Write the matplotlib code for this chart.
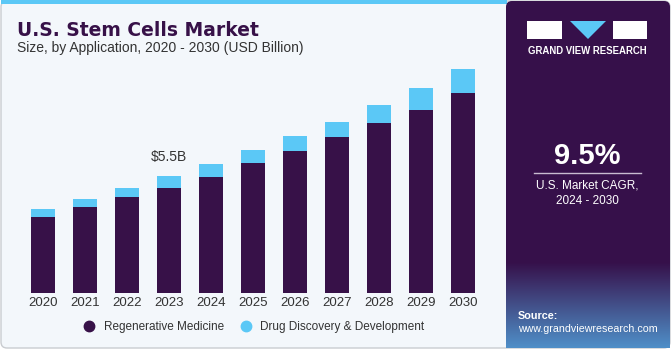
import matplotlib.pyplot as plt
import numpy as np
from matplotlib.patches import Rectangle, Polygon, FancyBboxPatch
from matplotlib.lines import Line2D

plt.rcParams['font.family'] = ['Liberation Sans', 'DejaVu Sans']

# data (USD billion)
years = ['2020', '2021', '2022', '2023', '2024', '2025', '2026', '2027', '2028', '2029', '2030']
regenerative = [3.57, 4.04, 4.51, 4.95, 5.47, 6.10, 6.67, 7.32, 7.99, 8.63, 9.39]
drug_discovery = [0.38, 0.38, 0.42, 0.55, 0.61, 0.63, 0.74, 0.75, 0.88, 1.00, 1.13]

purple = '#371148'
cyan = '#5bc8f6'
bg = '#f3f7fb'

W, H = 671, 350
fig = plt.figure(figsize=(W / 100, H / 100), dpi=100)
fig.patch.set_facecolor('white')

# background layer in pixel coords
bgax = fig.add_axes([0, 0, 1, 1])
bgax.axis('off')
bgax.add_patch(FancyBboxPatch((1, 1), W - 2, H - 3, boxstyle='round,pad=0,rounding_size=6',
                              facecolor=bg, edgecolor='#c9ccd0', lw=1))
bgax.add_patch(Rectangle((1, 0), 506, 4, facecolor=cyan, edgecolor='none'))

# right side panel with bottom fade
bgax.add_patch(FancyBboxPatch((506, 1), W - 507, H - 3, boxstyle='round,pad=0,rounding_size=6',
                              facecolor='#36104a', edgecolor='none'))
grad = np.linspace(0, 1, 100)[:, None]
c0 = np.array([0x36, 0x10, 0x4a]) / 255
c1 = np.array([0x4f, 0x8f, 0xc8]) / 255
img = c0[None, None, :] * (1 - grad[..., None]) + c1[None, None, :] * grad[..., None]
img = np.repeat(img, 2, axis=1)
bgax.imshow(img, extent=(506, W - 1, H - 2, 262), aspect='auto', zorder=1)
bgax.set_xlim(0, W)
bgax.set_ylim(H, 0)

# logo
bgax.add_patch(Rectangle((527, 21), 35, 18, facecolor='white', edgecolor='none', zorder=2))
bgax.add_patch(Polygon([(570, 21), (606, 21), (588, 39)], closed=True, facecolor=cyan, edgecolor='none', zorder=2))
bgax.add_patch(Rectangle((613, 21), 34, 18, facecolor='white', edgecolor='none', zorder=2))
bgax.text(587, 51, 'GRAND VIEW RESEARCH', color='white', fontsize=6.9, fontweight='bold',
          ha='center', va='center', zorder=3)

bgax.text(587, 156, '9.5%', color='white', fontsize=21, fontweight='bold', ha='center', va='center', zorder=3)
bgax.plot([534, 641], [173, 173], color='#c8bcd0', lw=1, zorder=3)
bgax.text(587, 186, 'U.S. Market CAGR,', color='white', fontsize=8.5, ha='center', va='center', zorder=3)
bgax.text(587, 201, '2024 - 2030', color='white', fontsize=8.5, ha='center', va='center', zorder=3)
bgax.text(518, 316, 'Source:', color='white', fontsize=7.8, fontweight='bold', ha='left', va='center', zorder=3)
bgax.text(518, 329, 'www.grandviewresearch.com', color='white', fontsize=7.7, ha='left', va='center', zorder=3)

# titles
bgax.text(17, 30, 'U.S. Stem Cells Market', color=purple, fontsize=13.5, fontweight='bold',
          family='DejaVu Sans', ha='left', va='center')
bgax.text(17, 48, 'Size, by Application, 2020 - 2030 (USD Billion)', color='#333333', fontsize=10,
          ha='left', va='center')

# chart axes
ax = fig.add_axes([22 / W, (H - 293) / H, 462 / W, 255 / H])
ax.patch.set_alpha(0)
x = np.arange(len(years))
ax.bar(x, regenerative, width=0.57, color=purple, zorder=2)
ax.bar(x, drug_discovery, width=0.57, bottom=regenerative, color=cyan, zorder=2)
ax.set_xlim(-0.5, len(years) - 0.5)
ax.set_ylim(0, 12)
for s in ax.spines.values():
    s.set_visible(False)
ax.set_yticks([])
ax.set_xticks(x)
ax.set_xticklabels(years, fontsize=9.5, color='#333333')
ax.tick_params(axis='x', length=0, pad=3)

total_2023 = regenerative[3] + drug_discovery[3]
ax.annotate('$5.5B', (3, total_2023), xytext=(0, 9), textcoords='offset points',
            ha='center', va='bottom', fontsize=10, color='#333333')

handles = [Line2D([], [], marker='o', ls='none', color=purple, markersize=7.5),
           Line2D([], [], marker='o', ls='none', color=cyan, markersize=7.5)]
fig.legend(handles, ['Regenerative Medicine', 'Drug Discovery & Development'],
           loc='center', bbox_to_anchor=(251 / W, (H - 327) / H), ncol=2, frameon=False,
           fontsize=8.5, handletextpad=0.2, columnspacing=0.9, labelcolor='#333333')

fig.savefig('out.png', dpi=100)
